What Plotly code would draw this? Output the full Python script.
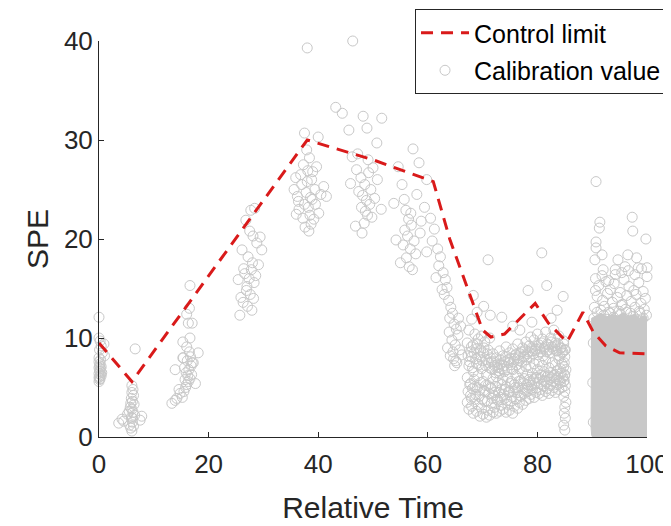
import plotly.graph_objects as go

# ---------------- data ----------------
# Control limit (red dashed line)
limit_t = [0, 6, 38, 50, 61, 64, 70, 71.5, 74, 76.5, 79.6, 82, 85.4, 88.3, 90.2, 92.5, 95, 100]
limit_v = [9.5, 5.6, 30.0, 28.0, 25.8, 20.0, 10.8, 10.1, 10.4, 11.8, 13.5, 11.5, 9.6, 12.6, 10.6, 9.2, 8.5, 8.4]

# Calibration values (grey open circles), grouped by batch
batch_a_t = [0.0, 0.0, 0.2, 0.4, 0.1, 0.6, 1.0, 0.3, 0.0, 0.2, 0.1, 0.0, 0.3, 0.1, 0.2, 0.0, 0.3, 0.1, 0.0, 0.2, 0.1, 0.0, 0.4, 0.5, 0.4, 0.0, 0.9]
batch_a_v = [12.1, 10.0, 9.7, 9.2, 8.8, 8.5, 8.2, 7.8, 7.6, 7.4, 7.2, 7.0, 6.9, 6.7, 6.6, 6.4, 6.3, 6.1, 6.0, 5.9, 5.8, 5.6, 7.1, 6.5, 6.2, 8.0, 9.4]

batch_b_t = [3.6, 4.2, 4.5, 5.2, 5.6, 5.8, 6.0, 6.1, 6.3, 5.9, 6.2, 6.0, 5.7, 6.4, 6.1, 5.9, 6.3, 6.0, 6.2, 5.8, 7.5, 7.8, 6.6, 6.0, 5.5, 6.5, 6.1]
batch_b_v = [1.4, 1.8, 1.6, 2.3, 1.2, 0.9, 0.6, 1.5, 1.1, 2.0, 2.5, 2.8, 3.0, 3.3, 3.6, 3.9, 4.2, 4.5, 4.8, 3.4, 1.7, 2.1, 8.9, 5.2, 2.6, 2.2, 1.9]

batch_c_t = [13.3, 13.9, 14.2, 14.8, 15.2, 15.5, 15.8, 16.0, 16.3, 16.6, 16.2, 15.9, 16.4, 15.6, 16.8, 17.0, 16.1, 15.4, 16.7, 17.2,
             16.5, 15.3, 16.0, 16.6, 18.1, 15.3, 16.3, 17.0, 16.0, 16.6, 13.9, 14.6, 15.7, 16.9, 17.6, 16.5]
batch_c_v = [3.4, 3.7, 3.9, 4.4, 4.0, 4.6, 5.0, 5.3, 5.6, 5.9, 6.2, 6.5, 6.8, 7.0, 7.2, 7.5, 7.7, 8.0, 8.1, 7.5,
             8.6, 9.6, 9.1, 10.0, 8.5, 8.0, 11.5, 11.5, 12.4, 15.3, 6.8, 4.8, 5.8, 6.3, 5.4, 13.0]

batch_d_t = [27.7, 28.4, 26.8, 27.5, 28.1, 26.1, 29.7, 27.2, 28.0, 27.8, 26.6, 27.4, 28.3, 27.0, 26.9, 27.6, 28.2, 25.4, 25.9, 26.3,
             27.1, 28.6, 29.1, 27.9, 25.7, 26.4, 29.4, 28.8]
batch_d_v = [22.9, 23.1, 21.9, 20.8, 20.3, 18.9, 18.9, 18.2, 17.6, 16.9, 16.5, 16.0, 15.6, 15.2, 14.8, 14.4, 14.0, 15.9, 14.1, 13.6,
             13.2, 16.3, 17.4, 12.8, 12.3, 17.0, 20.2, 19.6]

batch_e_t = [38.0, 37.5, 40.0, 37.9, 38.4, 35.6, 36.2, 37.0, 38.0, 38.8, 39.4, 36.5, 37.5, 38.2, 38.9, 39.5, 40.5, 41.5, 36.0, 37.2,
             38.5, 39.2, 37.6, 38.3, 40.1, 39.7, 36.8, 37.8, 38.6, 39.0, 37.3, 38.1, 36.4, 35.9, 41.0, 38.7]
batch_e_v = [39.3, 30.7, 30.3, 29.0, 28.2, 25.0, 24.3, 25.5, 25.8, 26.0, 25.0, 23.0, 23.5, 23.2, 24.0, 23.5, 24.5, 24.3, 22.5, 22.1,
             22.4, 22.0, 21.2, 20.8, 22.6, 27.3, 26.5, 24.7, 24.2, 26.8, 27.5, 26.9, 23.8, 26.2, 25.3, 21.5]

batch_f_t = [46.3, 43.2, 44.4, 48.2, 48.9, 51.6, 45.6, 50.7, 46.2, 47.0, 47.8, 48.5, 49.2, 50.0, 49.6, 48.1, 47.4, 48.8, 49.4, 50.3,
             48.6, 47.9, 49.0, 48.4, 46.8, 50.8, 51.5, 45.9, 49.8, 48.0, 47.2, 49.1]
batch_f_v = [40.0, 33.3, 32.7, 32.4, 31.2, 32.2, 31.0, 29.7, 28.3, 27.0, 26.2, 25.5, 26.7, 27.2, 25.0, 24.4, 24.8, 23.9, 23.5, 24.1,
             22.8, 23.2, 22.4, 21.6, 21.3, 26.0, 23.0, 25.6, 22.2, 20.6, 28.6, 28.0]

batch_g_t = [57.3, 58.4, 55.3, 54.6, 53.8, 56.0, 56.5, 57.0, 55.8, 56.3, 57.5, 55.5, 56.8, 57.8, 56.1, 55.0, 58.8, 59.4, 56.6, 57.2,
             54.2, 58.0, 55.7, 56.9, 59.8, 58.6]
batch_g_v = [29.1, 27.7, 25.5, 27.3, 23.6, 22.9, 22.0, 21.4, 20.9, 20.3, 19.8, 19.4, 19.0, 18.5, 18.1, 17.6, 21.8, 23.2, 17.2, 16.9,
             19.9, 24.5, 24.0, 22.6, 26.0, 20.6]

batch_h_t = [60.5, 61.2, 60.8, 61.8, 62.3, 62.0, 62.8, 63.2, 63.5, 63.0, 63.8, 64.2, 64.5, 64.0, 64.8, 65.2, 65.5, 64.4, 65.0, 65.8,
             66.2, 64.7, 65.3, 63.6, 64.1, 64.9, 65.6, 63.9, 64.6, 65.1, 62.6, 61.5, 59.8, 66.0]
batch_h_v = [22.1, 21.0, 19.8, 19.0, 18.2, 17.3, 16.6, 15.9, 15.1, 14.4, 13.8, 13.1, 12.5, 12.0, 11.4, 10.9, 10.3, 9.8, 9.3, 8.8,
             8.3, 7.9, 7.5, 9.0, 8.2, 7.2, 12.0, 10.6, 8.6, 7.7, 14.9, 16.1, 18.7, 11.2]

band_t = [67.2, 67.5, 67.8, 68.0, 68.3, 68.6, 68.9, 69.2, 69.5, 69.8, 70.1, 70.4, 70.7, 71.0, 71.3, 71.6, 71.9, 72.2, 72.5, 72.8,
          73.1, 73.4, 73.7, 74.0, 74.3, 74.6, 74.9, 75.2, 75.5, 75.8, 76.1, 76.4, 76.7, 77.0, 77.3, 77.6, 77.9, 78.2, 78.5, 78.8,
          79.1, 79.4, 79.7, 80.0, 80.3, 80.6, 80.9, 81.2, 81.5, 81.8, 82.1, 82.4, 82.7, 83.0, 83.3, 83.6, 83.9, 84.2, 84.5, 84.8]
band_low_v = [3.5, 2.8, 4.2, 3.1, 2.4, 3.8, 2.6, 3.3, 2.1, 2.9, 2.3, 3.6, 2.0, 2.7, 2.2, 3.4, 2.5, 3.0, 2.4, 3.7,
              2.6, 3.2, 2.8, 3.9, 2.5, 3.3, 2.7, 3.6, 2.4, 3.1, 3.8, 2.9, 3.5, 4.1, 3.3, 4.4, 3.7, 4.6, 3.9, 4.3,
              4.8, 4.0, 4.5, 5.0, 4.4, 4.8, 4.2, 5.1, 4.6, 4.9, 4.4, 5.2, 4.7, 5.0, 4.5, 5.3, 4.8, 5.5, 5.0, 5.6]
band_mid_v = [6.0, 7.2, 5.4, 8.1, 6.6, 5.1, 7.4, 6.2, 4.8, 6.9, 5.6, 4.6, 6.3, 5.2, 7.0, 4.9, 5.9, 4.5, 6.1, 5.5,
              6.4, 4.8, 5.8, 6.6, 5.1, 6.0, 4.6, 5.6, 6.8, 5.3, 6.2, 5.0, 6.9, 5.7, 6.5, 5.9, 7.1, 6.3, 5.8, 7.0,
              6.4, 7.4, 6.0, 6.8, 7.6, 6.3, 7.2, 6.6, 7.8, 6.1, 7.0, 6.5, 7.5, 6.2, 7.3, 6.7, 7.9, 6.9, 7.4, 7.1]
band_high_v = [9.5, 10.8, 8.6, 11.9, 9.3, 10.4, 8.9, 9.9, 8.1, 10.2, 8.5, 9.6, 7.8, 8.8, 10.0, 7.6, 8.4, 7.2, 8.0, 7.0,
               8.7, 7.4, 8.2, 7.6, 9.1, 7.8, 8.5, 7.3, 8.9, 7.9, 8.3, 9.4, 7.7, 8.6, 9.0, 8.1, 9.6, 8.4, 9.2, 10.1,
               8.7, 9.8, 8.9, 10.4, 9.3, 8.6, 9.9, 8.9, 10.6, 9.4, 8.8, 10.0, 9.1, 10.8, 9.5, 8.7, 10.2, 9.0, 8.5, 9.7]
band2_t = [67.35, 67.65, 67.95, 68.15, 68.45, 68.75, 69.05, 69.35, 69.65, 69.95, 70.25, 70.55, 70.85, 71.15, 71.45, 71.75,
           72.05, 72.35, 72.65, 72.95, 73.25, 73.55, 73.85, 74.15, 74.45, 74.75, 75.05, 75.35, 75.65, 75.95, 76.25, 76.55,
           76.85, 77.15, 77.45, 77.75, 78.05, 78.35, 78.65, 78.95, 79.25, 79.55, 79.85, 80.15, 80.45, 80.75, 81.05, 81.35,
           81.65, 81.95, 82.25, 82.55, 82.85, 83.15, 83.45, 83.75, 84.05, 84.35, 84.65, 84.95]
band2_a_v = [4.6, 5.3, 3.9, 4.9, 5.8, 4.3, 5.0, 4.1, 5.5, 3.8, 4.7, 5.2, 3.6, 4.4, 5.0, 3.9, 4.2, 5.1, 3.8, 4.5,
             4.0, 5.3, 4.3, 4.8, 3.7, 4.5, 5.4, 4.0, 4.6, 5.0, 4.5, 5.6, 4.2, 4.9, 5.4, 4.7, 5.3, 5.0, 5.6, 5.2,
             5.8, 5.4, 6.0, 5.5, 5.9, 5.3, 6.1, 5.7, 5.5, 6.2, 5.8, 6.0, 5.6, 6.3, 5.9, 6.1, 5.7, 6.4, 6.0, 6.2]
band2_b_v = [8.2, 7.6, 9.1, 7.0, 8.5, 7.9, 9.4, 7.3, 8.8, 7.7, 9.0, 7.2, 8.4, 7.5, 8.0, 6.8, 7.6, 6.5, 7.3, 6.7,
             7.8, 6.9, 7.2, 8.1, 6.8, 7.5, 7.9, 6.9, 7.6, 8.3, 7.3, 8.0, 8.4, 7.6, 8.2, 8.8, 7.8, 8.6, 8.1, 9.0,
             8.4, 8.7, 9.2, 8.3, 8.9, 9.5, 8.2, 9.1, 8.6, 9.3, 8.5, 9.6, 8.9, 9.2, 8.7, 9.4, 8.2, 9.0, 8.6, 8.8]
band_stray_t = [68.3, 71.0, 71.4, 73.5, 76.8, 78.3, 80.8, 81.7, 83.6, 84.7, 69.0, 75.5, 79.0, 82.5, 70.2]
band_stray_v = [14.3, 17.9, 12.3, 12.1, 10.8, 14.8, 18.6, 15.3, 12.8, 14.2, 12.6, 11.2, 11.6, 12.0, 13.2]

column_k_t = [85.0, 84.8, 85.1, 84.9, 85.0, 85.2, 84.8, 85.0, 85.1, 84.9, 85.0, 85.2, 84.9, 85.0, 85.1, 84.8]
column_k_v = [0.7, 1.2, 1.9, 2.4, 3.0, 3.5, 4.1, 4.6, 5.2, 5.7, 6.3, 6.8, 7.5, 8.1, 8.8, 9.4]

batch_j_t = [90.7, 91.4, 91.3, 97.3, 97.4, 99.8, 90.7, 90.7, 91.8, 90.5, 94.7, 96.5, 98.1, 96.0, 98.4, 100.0, 100.0, 92.0, 94.2,
             90.6, 91.2, 92.5, 93.3, 94.0, 95.1, 95.8, 96.7, 97.6, 98.5, 99.3, 100.1, 90.9, 91.9, 92.8, 93.7, 94.6, 95.5, 96.3,
             97.1, 98.0, 98.9, 99.7, 100.2, 90.4, 91.6, 92.2, 93.0, 93.9, 94.9, 95.3, 96.1, 97.0, 97.8, 98.6, 99.5, 100.3]
batch_j_v = [25.8, 21.7, 21.1, 22.2, 20.8, 20.0, 19.7, 19.1, 18.4, 17.9, 17.9, 18.4, 18.1, 17.2, 17.1, 17.1, 16.2, 16.9, 16.4,
             16.0, 15.3, 15.7, 14.9, 15.5, 14.6, 15.9, 15.2, 14.8, 15.6, 14.7, 15.1, 14.2, 13.8, 14.5, 13.6, 14.1, 13.4, 14.3,
             13.7, 14.4, 13.5, 14.0, 13.3, 13.1, 12.8, 13.2, 12.6, 13.0, 12.7, 13.3, 12.9, 12.5, 13.1, 12.7, 12.9, 12.4]
batch_j2_t = [90.3, 90.9, 91.5, 92.1, 92.7, 93.3, 93.9, 94.5, 95.1, 95.7, 96.3, 96.9, 97.5, 98.1, 98.7, 99.3, 99.9, 100.3,
              90.6, 91.8, 93.0, 94.2, 95.4, 96.6, 97.8, 99.0, 100.1, 90.2, 100.4, 90.1, 100.5, 90.2, 100.4]
batch_j2_v = [12.0, 12.6, 11.8, 12.3, 11.9, 12.5, 12.1, 11.7, 12.4, 12.0, 12.6, 11.8, 12.2, 11.9, 12.5, 12.0, 12.3, 11.7,
              14.8, 16.3, 15.8, 16.9, 16.6, 16.8, 16.4, 17.0, 18.2, 9.5, 9.0, 5.5, 4.8, 1.5, 1.0]

# outline of the saturated region where the batch-J circles overlap completely
dense_t = [89.8, 89.9, 90.3, 91.3, 93.0, 95.0, 97.0, 99.0, 100.1, 100.6, 100.7, 100.6, 99.6, 98.6, 97.6, 96.6, 95.6,
           94.6, 93.6, 92.6, 91.6, 90.6, 89.9, 89.8]
dense_v = [1.0, 0.2, -0.3, -0.5, -0.6, -0.6, -0.6, -0.5, -0.2, 0.5, 5.0, 11.8, 12.3, 12.0, 12.4, 12.1, 12.5, 12.2,
           12.4, 12.1, 12.5, 12.2, 12.0, 1.0]

x_ticks = [0, 20, 40, 60, 80, 100]
y_ticks = [0, 10, 20, 30, 40]

# ---------------- figure ----------------
cal_t = (batch_a_t + batch_b_t + batch_c_t + batch_d_t + batch_e_t + batch_f_t + batch_g_t + batch_h_t
         + band_t * 3 + band2_t * 2 + band_stray_t + column_k_t + batch_j_t + batch_j2_t)
cal_v = (batch_a_v + batch_b_v + batch_c_v + batch_d_v + batch_e_v + batch_f_v + batch_g_v + batch_h_v
         + band_low_v + band_mid_v + band_high_v + band2_a_v + band2_b_v + band_stray_v + column_k_v
         + batch_j_v + batch_j2_v)

GREY = "#c8c8c8"
AX = "#262626"
FONT = "Liberation Sans, Arial, Helvetica, sans-serif"

fig = go.Figure()
fig.add_trace(go.Scatter(x=dense_t, y=dense_v, mode="lines", fill="toself", fillcolor=GREY,
                         line=dict(color=GREY, width=1), showlegend=False, hoverinfo="skip",
                         cliponaxis=False))
fig.add_trace(go.Scatter(x=cal_t, y=cal_v, mode="markers", name="Calibration value",
                         marker=dict(symbol="circle-open", size=10, color=GREY, line=dict(width=1, color=GREY)),
                         cliponaxis=False, legendrank=2, legendgroup="b"))
fig.add_trace(go.Scatter(x=limit_t, y=limit_v, mode="lines", name="Control limit",
                         line=dict(color="#d91a1a", width=3, dash="12px,8px"),
                         legendrank=1, legendgroup="a"))

# the page places the figure 8 px from the top-left corner; size and margins compensate
fig.update_layout(
    width=663, height=518,
    margin=dict(l=91, r=24, t=33, b=89, autoexpand=False),
    paper_bgcolor="white", plot_bgcolor="white",
    font=dict(family=FONT, color=AX, size=26),
    showlegend=True,
    legend=dict(xref="container", yref="container", x=0.6139, y=0.998, xanchor="left", yanchor="top",
                bgcolor="white", bordercolor=AX, borderwidth=1, font=dict(size=25, color="black"),
                tracegroupgap=2, itemwidth=48),
    xaxis=dict(range=[0, 100], tickvals=x_ticks, ticktext=[str(v) for v in x_ticks], automargin=False,
               showline=True, linecolor=AX, linewidth=1, ticks="inside", ticklen=5, tickcolor=AX,
               showgrid=False, zeroline=False, tickfont=dict(size=26), ticklabelstandoff=4,
               ticklabeloverflow="allow",
               title=dict(text="Relative Time", font=dict(size=30), standoff=18)),
    yaxis=dict(range=[0, 40], tickvals=y_ticks, ticktext=[str(v) for v in y_ticks], automargin=False,
               showline=True, linecolor=AX, linewidth=1, ticks="inside", ticklen=5, tickcolor=AX,
               showgrid=False, zeroline=False, tickfont=dict(size=26),
               title=dict(text="SPE", font=dict(size=30), standoff=6)),
)

fig.write_html("out.html")
